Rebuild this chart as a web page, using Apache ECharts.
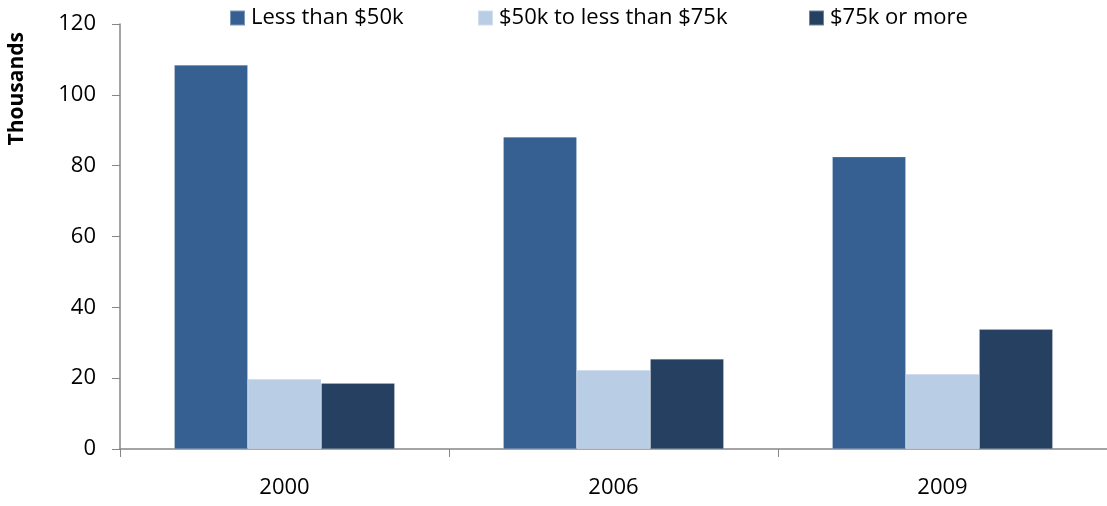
<!DOCTYPE html>
<html><head><meta charset="utf-8">
<script src="https://cdn.jsdelivr.net/npm/echarts@6/dist/echarts.min.js"></script>
<style>html,body{margin:0;padding:0;background:#fff}#c{width:1107px;height:506px}</style>
</head><body><div id="c"></div>
<script>
const categories = ['2000', '2006', '2009'];
const seriesNames = ['Less than $50k', '$50k to less than $75k', '$75k or more'];
const lessThan50k = [108.4, 88.1, 82.5];
const from50kTo75k = [19.8, 22.3, 21.2];
const over75k = [18.6, 25.4, 33.8];
const yTicks = [0, 20, 40, 60, 80, 100, 120];
const colors = ['#376092', '#B9CDE5', '#254061'];
const values = [lessThan50k, from50kTo75k, over75k];
const legendLefts = [224, 472, 803];
const font = '"Open Sans", "Liberation Sans", sans-serif';

const chart = echarts.init(document.getElementById('c'));
chart.setOption({
  animation: false,
  color: colors,
  grid: { left: 120, right: -3, top: 24, bottom: 57 },
  legend: seriesNames.map((n, i) => ({
    top: 2, left: legendLefts[i],
    itemWidth: 15, itemHeight: 15, itemGap: 0,
    textStyle: { fontFamily: font, fontSize: 22, color: '#000', padding: [0, 0, 0, 1] },
    icon: 'rect',
    data: [n]
  })),
  graphic: [{
    type: 'text', left: 7, top: 32, rotation: Math.PI / 2,
    style: { text: 'Thousands', fontFamily: font, fontSize: 21, fontWeight: 'bold', fill: '#000' }
  }],
  xAxis: {
    type: 'category', data: categories,
    axisLine: { lineStyle: { color: '#868686', width: 1.5 } },
    axisTick: { show: true, length: 8, lineStyle: { color: '#868686' } },
    axisLabel: { fontFamily: font, fontSize: 22, color: '#000', margin: 28 }
  },
  yAxis: {
    type: 'value', min: yTicks[0], max: yTicks[yTicks.length - 1], interval: 20,
    splitLine: { show: false },
    axisLine: { show: true, lineStyle: { color: '#868686', width: 1.5 } },
    axisTick: { show: true, length: 8, lineStyle: { color: '#868686' } },
    axisLabel: { fontFamily: font, fontSize: 22, color: '#000', margin: 24 }
  },
  series: seriesNames.map((n, i) => ({
    name: n, type: 'bar', data: values[i],
    barGap: '0%', barCategoryGap: '33%',
    itemStyle: { color: colors[i], borderColor: 'rgba(255,255,255,0.35)', borderWidth: 0.5 }
  }))
});
</script></body></html>
